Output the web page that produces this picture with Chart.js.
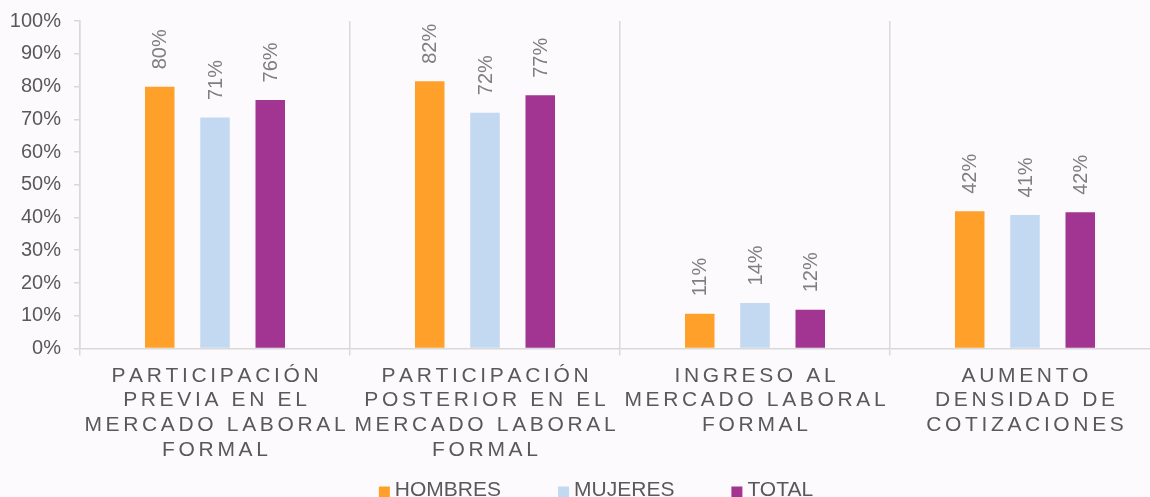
<!DOCTYPE html>
<html>
<head>
<meta charset="utf-8">
<script src="https://cdn.jsdelivr.net/npm/chart.js@4.4.1/dist/chart.umd.min.js"></script>
<style>
	html, body { margin: 0; padding: 0; background: #fcfafd; overflow: hidden; }
	#wrap { position: absolute; left: 0; top: 0; width: 1192px; height: 497px; }
</style>
</head>
<body>
<div id="wrap"><canvas id="chart"></canvas></div>
<script>
// Category labels (one line per entry)
const categories = [
	['PARTICIPACIÓN', 'PREVIA EN EL', 'MERCADO LABORAL', 'FORMAL'],
	['PARTICIPACIÓN', 'POSTERIOR EN EL', 'MERCADO LABORAL', 'FORMAL'],
	['INGRESO AL', 'MERCADO LABORAL', 'FORMAL'],
	['AUMENTO', 'DENSIDAD DE', 'COTIZACIONES']
];

const seriesNames = ['HOMBRES', 'MUJERES', 'TOTAL'];

// Values in %
const hombres = [79.9, 81.6, 10.6, 41.9];
const mujeres = [70.5, 72.0, 13.9, 40.8];
const total = [75.9, 77.3, 11.8, 41.6];

const colors = ['#FFA02B', '#C3D8F1', '#A13591'];
const FONT = '"Liberation Sans", Arial, sans-serif';

// background fill
const bgPlugin = {
	id: 'bg',
	beforeDraw(chart) {
		const ctx = chart.ctx;
		ctx.save();
		ctx.fillStyle = '#fcfafd';
		ctx.fillRect(0, 0, chart.width, chart.height);
		ctx.restore();
	}
};

// rotated value labels above each bar
const valueLabels = {
	id: 'valueLabels',
	afterDatasetsDraw(chart) {
		const ctx = chart.ctx;
		ctx.save();
		ctx.font = '20px ' + FONT;
		ctx.fillStyle = '#7f7f7f';
		ctx.textAlign = 'left';
		ctx.textBaseline = 'middle';
		chart.data.datasets.forEach((ds, i) => {
			chart.getDatasetMeta(i).data.forEach((bar, j) => {
				ctx.save();
				ctx.translate(bar.x + 1, bar.y - 17.5);
				ctx.rotate(-Math.PI / 2);
				ctx.fillText(Math.round(ds.data[j]) + '%', 0, 0);
				ctx.restore();
			});
		});
		ctx.restore();
	}
};

// spaced-out x labels and legend
function drawSpaced(ctx, text, cx, y, spacing) {
	const widths = [...text].map(ch => ctx.measureText(ch).width);
	const full = widths.reduce((a, b) => a + b, 0) + spacing * (widths.length - 1);
	let x = cx - full / 2;
	[...text].forEach((ch, k) => {
		ctx.fillText(ch, x, y);
		x += widths[k] + spacing;
	});
}

const extras = {
	id: 'extras',
	afterDraw(chart) {
		const ctx = chart.ctx;
		const xScale = chart.scales.x;
		ctx.save();
		ctx.fillStyle = '#595959';
		ctx.textAlign = 'left';
		ctx.textBaseline = 'alphabetic';
		ctx.font = '21px ' + FONT;
		categories.forEach((lines, i) => {
			const cx = xScale.getPixelForValue(i);
			lines.forEach((line, k) => {
				drawSpaced(ctx, line, cx, chart.chartArea.bottom + 33 + k * 24.8, 3.65);
			});
		});

		// legend
		const box = 11, gap = 5, itemGap = 57;
		const widths = seriesNames.map(n => ctx.measureText(n).width);
		const full = widths.reduce((a, w) => a + box + gap + w, 0) + itemGap * (seriesNames.length - 1);
		let x = chart.width / 2 - full / 2;
		const base = 496;
		seriesNames.forEach((name, i) => {
			ctx.fillStyle = colors[i];
			ctx.fillRect(x, 486.5, box, box);
			ctx.fillStyle = '#595959';
			ctx.fillText(name, x + box + gap, base);
			x += box + gap + widths[i] + itemGap;
		});
		ctx.restore();
	}
};

new Chart(document.getElementById('chart'), {
	type: 'bar',
	data: {
		labels: categories,
		datasets: [
			{ label: seriesNames[0], data: hombres, backgroundColor: colors[0] },
			{ label: seriesNames[1], data: mujeres, backgroundColor: colors[1] },
			{ label: seriesNames[2], data: total, backgroundColor: colors[2] }
		]
	},
	options: {
		responsive: true,
		maintainAspectRatio: false,
		animation: false,
		devicePixelRatio: 1,
		categoryPercentage: 0.614,
		barPercentage: 0.534,
		layout: {
			padding: { left: 0, right: 32, top: 21, bottom: 141.5 }
		},
		plugins: {
			legend: { display: false },
			tooltip: { enabled: false }
		},
		scales: {
			x: {
				ticks: { display: false },
				grid: {
					offset: true,
					color: '#d9d9d9',
					lineWidth: 1.5,
					tickLength: 7
				},
				border: { color: '#d9d9d9', width: 1.5 },
				afterFit: s => { s.height = 7; }
			},
			y: {
				min: 0,
				max: 100,
				ticks: {
					stepSize: 10,
					padding: 13,
					color: '#595959',
					font: { family: FONT, size: 20 },
					callback: v => v + '%'
				},
				grid: {
					drawOnChartArea: false,
					color: '#d9d9d9',
					lineWidth: 1.5,
					tickLength: 6
				},
				border: { color: '#d9d9d9', width: 1.5 },
				afterFit: s => {
					s.width = 80;
					s.paddingTop = 0;
					s.paddingBottom = 0;
				}
			}
		}
	},
	plugins: [bgPlugin, valueLabels, extras]
});
</script>
</body>
</html>
